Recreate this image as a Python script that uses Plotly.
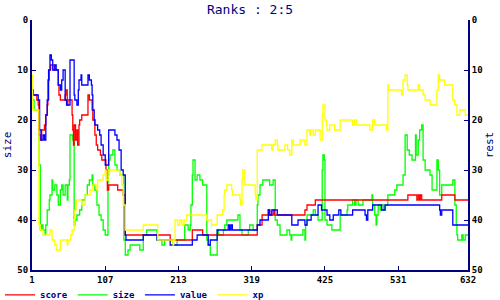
import plotly.graph_objects as go

# ---- data (step breakpoints) ----
score_x = [1, 8, 10, 11, 13, 15, 19, 21, 23, 24, 26, 28, 31, 33, 36, 39, 40, 42, 49, 50, 52, 53,
           59, 60, 61, 62, 64, 66, 67, 69, 70, 73, 82, 84, 88, 89, 92, 94, 96, 100, 102, 108, 110,
           112, 125, 133, 136, 201, 233, 248, 327, 334, 343, 345, 350, 352, 396, 399, 411, 545,
           558, 560, 562, 563, 565, 594, 613, 632]
score_y = [15, 16, 17, 23, 24, 22, 21, 19, 17, 12, 10, 9, 9, 10, 10, 13, 15, 16, 15, 14, 17, 16,
           19, 22, 25, 21, 24, 22, 25, 21, 20, 19, 15, 16, 18, 20, 23, 25, 26, 27, 28, 30, 34,
           33, 34, 35, 43, 44, 42, 43, 41, 39, 38, 39, 38, 39, 38, 37, 36, 35,
           36, 35, 36, 35, 36, 35, 36, 36]

size_x = [1, 4, 11, 13, 15, 17, 20, 21, 23, 26, 27, 30, 31, 34, 37, 39, 42, 44, 46, 49, 52, 53,
          55, 56, 60, 62, 63, 66, 70, 73, 78, 81, 84, 88, 89, 92, 95, 98, 101, 104, 107, 111,
          112, 114, 118, 121, 124, 128, 134, 136, 140, 143, 157, 162, 167, 182, 189, 193, 205,
          211, 222, 227, 230, 231, 233, 234, 237, 240, 244, 248, 254, 256, 259, 269, 271, 278,
          280, 283, 299, 302, 305, 314, 316, 321, 327, 328, 331, 335, 345, 350, 353, 356, 360,
          370, 374, 376, 377, 393, 396, 397, 399, 408, 411, 415, 421, 422, 424, 425, 428, 435,
          447, 457, 458, 465, 468, 470, 473, 480, 493, 494, 497, 499, 500, 502, 505, 507, 510,
          512, 516, 526, 529, 538, 541, 544, 547, 551, 556, 557, 560, 562, 565, 567, 570, 577,
          580, 587, 589, 591, 594, 610, 613, 615, 616, 617, 623, 625, 628, 632]
size_y = [16, 18, 29, 42, 41, 42, 43, 41, 38, 36, 35, 32, 34, 33, 35, 37, 34, 33, 35, 33, 36, 33,
          32, 23, 24, 41, 40, 39, 38, 36, 35, 33, 32, 31, 33, 34, 37, 39, 40, 42, 43, 31,
          28, 27, 26, 29, 30, 31, 44, 47, 46, 45, 46, 43, 42, 44, 45, 44, 45,
          44, 41, 42, 41, 37, 31, 28, 32, 31, 32, 33, 44, 45, 47, 42, 43, 42,
          41, 40, 39, 42, 43, 42, 41, 42, 37, 35, 33, 32, 33, 32, 40, 41, 43,
          42, 43, 44, 43, 42, 44, 41, 39, 38, 39, 40, 30, 27, 28, 40, 41, 42,
          39, 38, 37, 36, 37, 36, 37, 36, 35, 37, 39, 41, 39, 37, 38, 37, 38,
          37, 35, 34, 33, 31, 23, 26, 27, 28, 23, 27, 24, 22, 21, 28, 30, 31,
          34, 28, 30, 35, 33, 32, 37, 41, 43, 44, 43, 44, 43, 43]

value_x = [1, 3, 10, 12, 14, 17, 19, 21, 23, 25, 27, 29, 31, 34, 36, 39, 42, 44, 46, 49, 51, 56,
           62, 63, 66, 68, 69, 72, 73, 82, 84, 87, 88, 89, 91, 92, 96, 99, 101, 104, 107, 112,
           121, 124, 127, 130, 133, 136, 137, 162, 182, 201, 233, 240, 256, 259, 269, 285, 287,
           289, 291, 327, 331, 343, 345, 348, 356, 377, 386, 396, 399, 405, 415, 420, 428, 432,
           437, 445, 448, 465, 483, 485, 487, 494, 507, 512, 591, 592, 594, 610, 632]
value_y = [14, 15, 16, 22, 24, 23, 24, 19, 16, 10, 7, 8, 10, 9, 10, 13, 14, 12, 10, 16, 17, 8,
           15, 16, 17, 14, 12, 11, 13, 11, 12, 13, 15, 18, 20, 21, 22, 23, 25, 27, 29, 22,
           23, 24, 26, 30, 31, 43, 44, 43, 44, 45, 44, 43, 45, 44, 42, 41, 42,
           41, 42, 41, 40, 38, 39, 38, 39, 41, 40, 41, 40, 39, 37, 38, 39, 40,
           39, 38, 39, 38, 39, 40, 38, 37, 38, 37, 38, 39, 38, 41, 41]

xp_x = [1, 2, 11, 13, 17, 27, 30, 34, 36, 42, 52, 53, 57, 59, 62, 63, 65, 73, 78, 85, 89, 95,
        96, 104, 107, 108, 111, 128, 131, 133, 136, 162, 183, 205, 206, 208, 212, 215, 218, 221,
        225, 254, 261, 269, 277, 279, 280, 283, 290, 291, 302, 303, 305, 306, 309, 324, 325, 327,
        334, 348, 350, 353, 356, 357, 367, 371, 374, 377, 379, 389, 396, 399, 403, 404, 408, 411,
        418, 421, 422, 425, 427, 428, 432, 439, 447, 465, 468, 471, 490, 494, 497, 514, 516, 517,
        536, 538, 541, 544, 545, 560, 562, 567, 570, 577, 587, 589, 591, 598, 610, 613, 616, 620,
        628, 632]
xp_y = [11, 18, 41, 42, 43, 42, 44, 45, 46, 44, 45, 44, 43, 42, 40, 38, 36, 37, 35, 34, 33, 34,
        32, 31, 30, 32, 30, 31, 33, 37, 42, 41, 44, 45, 44, 40, 41, 40, 41, 40,
        39, 40, 41, 39, 38, 35, 34, 33, 34, 35, 36, 37, 32, 30, 33, 35, 36, 26,
        25, 26, 25, 24, 25, 26, 25, 26, 27, 24, 25, 24, 25, 22, 23, 22, 23, 22,
        24, 19, 17, 20, 21, 22, 21, 22, 20, 21, 20, 21, 22, 20, 21, 22, 13, 14,
        15, 12, 11, 13, 14, 13, 14, 15, 16, 17, 14, 11, 12, 13, 16, 17, 19, 18,
        19, 19]

x_ticks = [1, 107, 213, 319, 425, 531, 632]
y_ticks = [0, 10, 20, 30, 40, 50]

NAVY = "#000080"
MONO = "DejaVu Sans Mono"

fig = go.Figure()
fig.add_trace(go.Scatter(x=score_x, y=score_y, name="score", mode="lines", line_shape="hv",
                         line=dict(color="#FF0000", width=1.3), yaxis="y2"))
fig.add_trace(go.Scatter(x=size_x, y=size_y, name="size", mode="lines", line_shape="hv",
                         line=dict(color="#00FF00", width=1.3), yaxis="y"))
fig.add_trace(go.Scatter(x=value_x, y=value_y, name="value", mode="lines", line_shape="hv",
                         line=dict(color="#0000FF", width=1.3), yaxis="y2"))
fig.add_trace(go.Scatter(x=xp_x, y=xp_y, name="xp", mode="lines", line_shape="hv",
                         line=dict(color="#FFFF00", width=1.3), yaxis="y2"))

tickfont = dict(family=MONO, size=9, color="#000000", weight="bold")
fig.update_layout(
    width=500, height=300,
    margin=dict(l=32, r=32, t=20, b=30, autoexpand=False),
    paper_bgcolor="white", plot_bgcolor="white",
    title=dict(text="Ranks : 2:5", x=0.5, xanchor="center", y=0.967, yanchor="middle",
               font=dict(family=MONO, size=13, color=NAVY)),
    showlegend=True,
    legend=dict(orientation="h", xref="container", x=-0.01, xanchor="left",
                yref="container", y=0.017, yanchor="middle",
                font=dict(family=MONO, size=9, color=NAVY, weight="bold"),
                itemwidth=30, tracegroupgap=0, bgcolor="rgba(0,0,0,0)"),
    xaxis=dict(range=[1, 632], tickvals=x_ticks, ticktext=[str(v) for v in x_ticks],
               automargin=False,
               showgrid=False, zeroline=False, showline=True, linecolor=NAVY, linewidth=2,
               ticks="inside", ticklen=4, tickcolor=NAVY, tickwidth=1, tickfont=tickfont),
    yaxis=dict(range=[50, 0], tickvals=y_ticks, showgrid=False, zeroline=False, automargin=False,
               showline=True, linecolor=NAVY, linewidth=2, ticks="inside", ticklen=4,
               tickcolor=NAVY, tickwidth=1, tickfont=tickfont,
               title=dict(text="size", font=dict(family=MONO, size=11, color=NAVY), standoff=4)),
    yaxis2=dict(range=[50, 0], tickvals=y_ticks, overlaying="y", side="right", showgrid=False,
                zeroline=False, showline=True, linecolor=NAVY, linewidth=2, ticks="inside",
                automargin=False,
                ticklen=4, tickcolor=NAVY, tickwidth=1, tickfont=tickfont,
                title=dict(text="rest", font=dict(family=MONO, size=11, color=NAVY), standoff=4)),
)

fig.write_html("out.html")
